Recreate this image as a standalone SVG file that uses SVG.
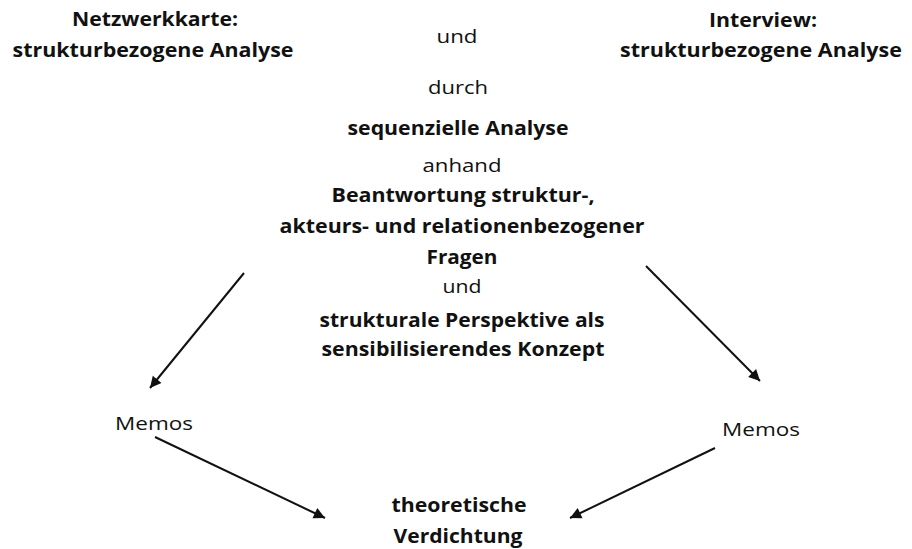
<svg xmlns="http://www.w3.org/2000/svg" width="912" height="549" viewBox="0 0 912 549">
<style>
text{font-family:"Open Sans","Noto Sans","Liberation Sans",sans-serif;fill:#111;text-anchor:middle;font-size:19px}
.b{font-weight:bold}
.c{stroke:#111;stroke-width:2;fill:none;marker-end:url(#ah)}
</style>
<defs>
<marker id="ah" viewBox="0 0 10 10" refX="10" refY="5" markerWidth="7" markerHeight="7" markerUnits="userSpaceOnUse" orient="auto" style="overflow:visible">
<path d="M0,0 L10,5 L0,10 z" fill="#111" transform="scale(1.6) translate(-3.75,-1.9)"/>
</marker>
</defs>
<rect width="912" height="549" fill="#fff"/>
<g id="netzwerkkarte">
<text class="b" x="155" y="26" textLength="166" lengthAdjust="spacingAndGlyphs">Netzwerkkarte:</text>
<text class="b" x="153" y="57" textLength="281" lengthAdjust="spacingAndGlyphs">strukturbezogene Analyse</text>
</g>
<g id="und-top"><text x="457" y="43" textLength="41" lengthAdjust="spacingAndGlyphs">und</text></g>
<g id="interview">
<text class="b" x="763" y="27" textLength="108" lengthAdjust="spacingAndGlyphs">Interview:</text>
<text class="b" x="761" y="57" textLength="282" lengthAdjust="spacingAndGlyphs">strukturbezogene Analyse</text>
</g>
<g id="center">
<text x="458" y="94" textLength="60" lengthAdjust="spacingAndGlyphs">durch</text>
<text class="b" x="458" y="135" textLength="221" lengthAdjust="spacingAndGlyphs">sequenzielle Analyse</text>
<text x="462" y="172" textLength="79" lengthAdjust="spacingAndGlyphs">anhand</text>
<text class="b" x="463" y="202" textLength="263" lengthAdjust="spacingAndGlyphs">Beantwortung struktur-,</text>
<text class="b" x="462" y="233" textLength="365" lengthAdjust="spacingAndGlyphs">akteurs- und relationenbezogener</text>
<text class="b" x="462" y="264" textLength="71" lengthAdjust="spacingAndGlyphs">Fragen</text>
<text x="462" y="293" textLength="39" lengthAdjust="spacingAndGlyphs">und</text>
<text class="b" x="462" y="327" textLength="285" lengthAdjust="spacingAndGlyphs">strukturale Perspektive als</text>
<text class="b" x="463" y="356" textLength="283" lengthAdjust="spacingAndGlyphs">sensibilisierendes Konzept</text>
</g>
<g id="memos-left"><text x="154" y="430" textLength="78" lengthAdjust="spacingAndGlyphs">Memos</text></g>
<g id="memos-right"><text x="761" y="436" textLength="78" lengthAdjust="spacingAndGlyphs">Memos</text></g>
<g id="theoretische-verdichtung">
<text class="b" x="459" y="512" textLength="135" lengthAdjust="spacingAndGlyphs">theoretische</text>
<text class="b" x="458" y="543" textLength="129" lengthAdjust="spacingAndGlyphs">Verdichtung</text>
</g>
<g id="connectors">
<line class="c" x1="244" y1="273" x2="150" y2="388"/>
<line class="c" x1="646" y1="266" x2="760" y2="381"/>
<line class="c" x1="155" y1="437" x2="325" y2="518"/>
<line class="c" x1="715" y1="448" x2="570" y2="518"/>
</g>
</svg>
